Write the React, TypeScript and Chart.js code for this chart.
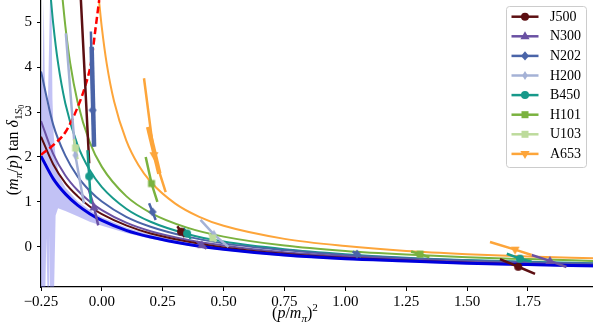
import React, { useEffect, useRef } from 'react';
import { Chart, registerables, LineController, ScatterController } from 'chart.js';

Chart.register(...registerables);
// keep the plot area flush with the canvas edges (no automatic overflow padding)
(LineController.prototype as any).getMaxOverflow = function () { return 0; };
(ScatterController.prototype as any).getMaxOverflow = function () { return 0; };

// ---------- axes ----------
const X_MIN = -0.25;
const X_MAX = 2.017;
const Y_MIN = -0.89;
const Y_MAX = 5.49;
const xTickValues = [-0.25, 0, 0.25, 0.5, 0.75, 1.0, 1.25, 1.5, 1.75];
const xTickLabels = ['−0.25', '0.00', '0.25', '0.50', '0.75', '1.00', '1.25', '1.50', '1.75'];
const yTickValues = [0, 1, 2, 3, 4, 5];
const yTickLabels = ['0', '1', '2', '3', '4', '5'];

// ---------- legend / ensembles ----------
const ensembles = ['J500', 'N300', 'N202', 'H200', 'B450', 'H101', 'U103', 'A653'];

// ---------- full curves ----------
const curveX = [-0.25, -0.2, -0.15, -0.1, -0.05, 0, 0.1, 0.2, 0.35, 0.5, 0.75, 1.0, 1.25, 1.5, 1.75, 2.02];
const fitBlue = [2.02, 1.52, 1.18, 0.93, 0.74, 0.59, 0.37, 0.22, 0.06, -0.05, -0.18, -0.26, -0.31, -0.36, -0.39, -0.42];
const curveJ500 = [2.45, 1.84, 1.42, 1.13, 0.9, 0.73, 0.48, 0.3, 0.12, -0.01, -0.15, -0.24, -0.3, -0.35, -0.39, -0.42];
const curveN300 = [2.8, 2.07, 1.59, 1.26, 1.01, 0.82, 0.54, 0.35, 0.16, 0.03, -0.12, -0.21, -0.28, -0.33, -0.37, -0.4];
const curveN202 = [3.9, 2.72, 2.03, 1.57, 1.25, 1.01, 0.67, 0.45, 0.23, 0.08, -0.07, -0.18, -0.25, -0.3, -0.34, -0.37];
const tealX = [-0.209, -0.2, -0.18, -0.15, -0.1, -0.05, 0, 0.1, 0.2, 0.35, 0.5, 0.75, 1.0, 1.25, 1.5, 1.75, 2.02];
const curveB450 = [5.49, 4.97, 4.09, 3.19, 2.27, 1.71, 1.33, 0.85, 0.56, 0.29, 0.12, -0.05, -0.16, -0.24, -0.29, -0.33, -0.36];
const greenX = [-0.161, -0.15, -0.13, -0.1, -0.05, 0, 0.1, 0.2, 0.35, 0.5, 0.75, 1.0, 1.25, 1.5, 1.75, 2.02];
const curveH101 = [5.49, 4.91, 4.08, 3.23, 2.33, 1.78, 1.13, 0.76, 0.43, 0.23, 0.03, -0.09, -0.17, -0.23, -0.27, -0.31];
const orangeX = [-0.012, 0, 0.02, 0.05, 0.1, 0.15, 0.2, 0.3, 0.4, 0.5, 0.75, 1.0, 1.25, 1.5, 1.75, 2.02];
const curveA653 = [5.49, 4.87, 4.07, 3.24, 2.37, 1.82, 1.45, 0.97, 0.67, 0.47, 0.18, 0.02, -0.09, -0.16, -0.21, -0.25];

// red dashed bound-state line
const redX = [-0.25, -0.19, -0.15, -0.1, -0.07, -0.045, -0.025, -0.011];
const redY = [2.05, 2.31, 2.55, 3.1, 3.55, 4.08, 4.9, 5.49];

// error band of the fit
const bandUpperX = [-0.25, -0.243, -0.239, -0.235, -0.23, -0.222, -0.213, -0.207, -0.203, -0.198, -0.19, -0.18, -0.17, -0.15, -0.1, -0.05, 0, 0.1, 0.2, 0.35, 0.5, 0.75, 1.0, 1.5, 2.02];
const bandUpper = [3.6, 3.9, 5.49, 3.9, 3.3, 3.1, 5.49, 5.49, 3.3, 2.5, 2.0, 1.72, 1.52, 1.32, 1.02, 0.82, 0.66, 0.43, 0.27, 0.1, -0.02, -0.15, -0.23, -0.33, -0.39];
const bandLowerX = [-0.25, -0.232, -0.228, -0.224, -0.216, -0.213, -0.21, -0.196, -0.19, -0.18, -0.15, -0.1, -0.05, 0, 0.1, 0.2, 0.35, 0.5, 0.75, 1.0, 1.5, 2.02];
const bandLower = [-0.89, -0.89, 0.2, -0.89, -0.89, 0.3, -0.89, -0.89, 0.7, 0.86, 0.8, 0.68, 0.56, 0.47, 0.31, 0.18, 0.03, -0.08, -0.21, -0.29, -0.39, -0.46];

// ---------- lattice points: centre, lower end, upper end ----------
const J500_mark = [[-0.091, 6.0], [0.325, 0.34], [1.71, -0.44]];
const J500_lo = [[-0.052, 1.86], [0.34, 0.22], [1.779, -0.6]];
const J500_hi = [[-0.095, 6.5], [0.31, 0.46], [1.635, -0.27]];

const N300_mark = [[-0.032, 0.88], [0.41, 0.04], [1.84, -0.31]];
const N300_lo = [[-0.015, 0.48], [0.43, -0.04], [1.908, -0.445]];
const N300_hi = [[-0.055, 1.3], [0.39, 0.12], [1.765, -0.18]];

const N202_mark = [[-0.038, 3.04], [0.208, 0.78], [1.048, -0.16]];
const N202_lo = [[-0.032, 2.23], [0.221, 0.6], [1.065, -0.22]];
const N202_hi = [[-0.045, 4.79], [0.194, 0.97], [1.03, -0.1]];
const N202_inner = [[-0.042, 4.45], [-0.032, 2.23]];

const H200_mark = [[-0.109, 2.04], [0.46, 0.28]];
const H200_lo = [[-0.074, 0.97], [0.52, 0.0]];
const H200_hi = [[-0.148, 4.75], [0.405, 0.6]];

const B450_mark = [[-0.052, 1.57], [0.35, 0.3], [1.717, -0.26]];
const B450_lo = [[-0.045, 0.97], [0.365, 0.18], [1.765, -0.33]];
const B450_hi = [[-0.059, 2.15], [0.335, 0.42], [1.663, -0.15]];

const H101_mark = [[0.204, 1.41], [1.307, -0.16]];
const H101_lo = [[0.228, 1.0], [1.345, -0.23]];
const H101_hi = [[0.18, 2.0], [1.27, -0.1]];

const U103_mark = [[-0.108, 2.2], [0.455, 0.2]];
const U103_lo = [[-0.1, 1.95], [0.47, 0.12]];
const U103_hi = [[-0.115, 2.4], [0.44, 0.3]];

const A653_mark = [[0.214, 2.04], [1.697, -0.06]];
const A653_lo = [[0.262, 1.22], [1.765, -0.18]];
const A653_hi = [[0.173, 3.75], [1.594, 0.11]];
const A653_inner = [[0.19, 2.67], [0.236, 1.63]];

// ---------- styles ----------
const STYLE: Record<string, { color: string; marker: string }> = {
  J500: { color: '#5c0f12', marker: 'circle' },
  N300: { color: '#6a51a3', marker: 'triangle' },
  N202: { color: '#4a64a8', marker: 'diamond' },
  H200: { color: '#a5b2d6', marker: 'thinDiamond' },
  B450: { color: '#17998a', marker: 'circle' },
  H101: { color: '#7ab23f', marker: 'square' },
  U103: { color: '#bddb9c', marker: 'square' },
  A653: { color: '#fda53a', marker: 'triangleDown' },
};
const FIT_BLUE = '#0000dd';
const BAND = 'rgba(110,110,230,0.42)';
const SERIF = '"Liberation Serif", "DejaVu Serif", serif';

const POINTS: Record<string, { mark: number[][]; lo: number[][]; hi: number[][]; inner?: number[][] }> = {
  J500: { mark: J500_mark, lo: J500_lo, hi: J500_hi },
  N300: { mark: N300_mark, lo: N300_lo, hi: N300_hi },
  N202: { mark: N202_mark, lo: N202_lo, hi: N202_hi, inner: N202_inner },
  H200: { mark: H200_mark, lo: H200_lo, hi: H200_hi },
  B450: { mark: B450_mark, lo: B450_lo, hi: B450_hi },
  H101: { mark: H101_mark, lo: H101_lo, hi: H101_hi },
  U103: { mark: U103_mark, lo: U103_lo, hi: U103_hi },
  A653: { mark: A653_mark, lo: A653_lo, hi: A653_hi, inner: A653_inner },
};

const xy = (xs: number[], ys: number[]) => xs.map((x, i) => ({ x, y: ys[i] }));
const pr = (p: number[]) => ({ x: p[0], y: p[1] });

function markerPath(ctx: CanvasRenderingContext2D, kind: string, x: number, y: number) {
  ctx.beginPath();
  switch (kind) {
    case 'circle':
      ctx.arc(x, y, 4, 0, Math.PI * 2);
      break;
    case 'triangle':
      ctx.moveTo(x, y - 5); ctx.lineTo(x + 4.6, y + 3); ctx.lineTo(x - 4.6, y + 3); ctx.closePath();
      break;
    case 'triangleDown':
      ctx.moveTo(x, y + 5); ctx.lineTo(x + 4.6, y - 3); ctx.lineTo(x - 4.6, y - 3); ctx.closePath();
      break;
    case 'diamond':
      ctx.moveTo(x, y - 4.6); ctx.lineTo(x + 4, y); ctx.lineTo(x, y + 4.6); ctx.lineTo(x - 4, y); ctx.closePath();
      break;
    case 'thinDiamond':
      ctx.moveTo(x, y - 4.6); ctx.lineTo(x + 2.8, y); ctx.lineTo(x, y + 4.6); ctx.lineTo(x - 2.8, y); ctx.closePath();
      break;
    default:
      ctx.rect(x - 3.5, y - 3.5, 7, 7);
  }
}

function markerCanvas(kind: string, color: string) {
  const c = document.createElement('canvas');
  c.width = 12; c.height = 12;
  const g = c.getContext('2d')!;
  g.fillStyle = color;
  markerPath(g, kind, 6, 6);
  g.fill();
  return c;
}

type Run = { t: string; it?: boolean; lvl?: number };
function drawRuns(ctx: CanvasRenderingContext2D, runs: Run[], cx: number, baseline: number, base: number) {
  const size = (r: Run) => (r.lvl === 1 || r.lvl === -1 ? base * 0.7 : r.lvl === 2 ? base * 0.5 : base);
  const dy = (r: Run) => (r.lvl === 1 ? base * 0.22 : r.lvl === 2 ? base * 0.4 : r.lvl === -1 ? -base * 0.42 : 0);
  const font = (r: Run) => `${r.it ? 'italic ' : ''}${size(r)}px ${SERIF}`;
  let total = 0;
  const widths = runs.map((r) => {
    ctx.font = font(r);
    const w = ctx.measureText(r.t).width;
    total += w;
    return w;
  });
  let x = cx - total / 2;
  ctx.textAlign = 'left';
  ctx.textBaseline = 'alphabetic';
  runs.forEach((r, i) => {
    ctx.font = font(r);
    ctx.fillText(r.t, x, baseline + dy(r));
    x += widths[i];
  });
}

const xTitle: Run[] = [
  { t: '(' }, { t: 'p', it: true }, { t: '/' }, { t: 'm', it: true }, { t: 'π', it: true, lvl: 1 }, { t: ')' }, { t: '2', lvl: -1 },
];
const yTitle: Run[] = [
  { t: '(' }, { t: 'm', it: true }, { t: 'π', it: true, lvl: 1 }, { t: '/' }, { t: 'p', it: true }, { t: ')' },
  { t: ' tan ' }, { t: 'δ', it: true }, { t: '1', lvl: 1 }, { t: 'S', it: true, lvl: 1 }, { t: '0', lvl: 2 },
];

const decorPlugin = {
  id: 'decor',
  afterDraw(chart: any) {
    const ctx: CanvasRenderingContext2D = chart.ctx;
    ctx.save();
    ctx.fillStyle = '#000';
    drawRuns(ctx, xTitle, 295, 318, 16);
    ctx.save();
    ctx.translate(18, 150);
    ctx.rotate(-Math.PI / 2);
    drawRuns(ctx, yTitle, 0, 0, 16);
    ctx.restore();

    const bx = 506.5, by = 6.5, bw = 80, bh = 161, r = 3;
    ctx.beginPath();
    ctx.moveTo(bx + r, by);
    ctx.lineTo(bx + bw - r, by);
    ctx.quadraticCurveTo(bx + bw, by, bx + bw, by + r);
    ctx.lineTo(bx + bw, by + bh - r);
    ctx.quadraticCurveTo(bx + bw, by + bh, bx + bw - r, by + bh);
    ctx.lineTo(bx + r, by + bh);
    ctx.quadraticCurveTo(bx, by + bh, bx, by + bh - r);
    ctx.lineTo(bx, by + r);
    ctx.quadraticCurveTo(bx, by, bx + r, by);
    ctx.closePath();
    ctx.fillStyle = 'rgba(255,255,255,0.8)';
    ctx.fill();
    ctx.strokeStyle = '#cccccc';
    ctx.lineWidth = 1;
    ctx.stroke();
    ensembles.forEach((name, i) => {
      const y = 16.7 + i * 19.6;
      const st = STYLE[name];
      ctx.strokeStyle = st.color;
      ctx.lineWidth = 2.5;
      ctx.beginPath();
      ctx.moveTo(511.5, y);
      ctx.lineTo(538.5, y);
      ctx.stroke();
      ctx.fillStyle = st.color;
      markerPath(ctx, st.marker, 525, y);
      ctx.fill();
      ctx.fillStyle = '#000';
      ctx.font = `14px ${SERIF}`;
      ctx.textAlign = 'left';
      ctx.textBaseline = 'middle';
      ctx.fillText(name, 550, y + 0.5);
    });
    ctx.restore();
  },
};

export default function App() {
  const ref = useRef<HTMLCanvasElement>(null);
  useEffect(() => {
    document.body.style.margin = '0';
    const noPts = { pointRadius: 0, pointHoverRadius: 0, pointBorderWidth: 0 };
    const datasets: any[] = [];
    datasets.push({
      type: 'line', data: xy(bandUpperX, bandUpper), borderWidth: 0, tension: 0, ...noPts,
      fill: '+1', backgroundColor: BAND, borderColor: BAND, order: 100,
    });
    datasets.push({
      type: 'line', data: xy(bandLowerX, bandLower), borderWidth: 0, tension: 0, ...noPts,
      fill: false, borderColor: BAND, order: 99,
    });
    const curves: [string, number[], number[], number][] = [
      ['A653', orangeX, curveA653, 80],
      ['H101', greenX, curveH101, 79],
      ['B450', tealX, curveB450, 78],
      ['N202', curveX, curveN202, 77],
      ['N300', curveX, curveN300, 76],
      ['J500', curveX, curveJ500, 75],
    ];
    curves.forEach(([name, xs, ys, order]) => {
      datasets.push({
        type: 'line', data: xy(xs, ys), borderColor: STYLE[name].color, borderWidth: 2, ...noPts,
        cubicInterpolationMode: 'monotone', fill: false, order,
      });
    });
    datasets.push({
      type: 'line', data: xy(curveX, fitBlue), borderColor: FIT_BLUE, borderWidth: 3, ...noPts,
      cubicInterpolationMode: 'monotone', fill: false, order: 50,
    });
    datasets.push({
      type: 'line', data: xy(redX, redY), borderColor: '#ff0000', borderWidth: 2.5, borderDash: [7, 3.5],
      ...noPts, cubicInterpolationMode: 'monotone', fill: false, order: 45,
    });
    ensembles.forEach((name, k) => {
      const p = POINTS[name];
      const st = STYLE[name];
      p.mark.forEach((m, i) => {
        datasets.push({
          type: 'line', data: [pr(p.hi[i]), pr(m), pr(p.lo[i])], borderColor: st.color, borderWidth: 2.5,
          ...noPts, tension: 0, fill: false, order: 30 - k * 0.1,
        });
      });
      if (p.inner) {
        datasets.push({
          type: 'line', data: p.inner.map(pr), borderColor: st.color, borderWidth: 4.5,
          ...noPts, tension: 0, fill: false, order: 29 - k * 0.1,
        });
      }
      datasets.push({
        type: 'scatter', data: p.mark.map(pr), pointStyle: markerCanvas(st.marker, st.color),
        pointRadius: 5, pointHoverRadius: 5, pointBorderWidth: 0, backgroundColor: st.color, borderColor: st.color,
        showLine: false, order: 20 - k * 0.1,
      });
    });

    const tickFont = { family: SERIF, size: 15 };
    const chart = new Chart(ref.current!, {
      type: 'scatter',
      data: { datasets },
      options: {
        animation: false,
        responsive: false,
        devicePixelRatio: 1,
        layout: { padding: 0 },
        events: [],
        plugins: { legend: { display: false }, tooltip: { enabled: false } },
        scales: {
          x: {
            type: 'linear', min: X_MIN, max: X_MAX,
            afterBuildTicks: (s: any) => { s.ticks = xTickValues.map((v) => ({ value: v })); },
            afterFit: (s: any) => { s.height = 47; s.paddingLeft = 0; s.paddingRight = 0; },
            ticks: {
              callback: (_v: any, i: number) => xTickLabels[i], font: tickFont, color: '#000',
              padding: 2, maxRotation: 0, autoSkip: false,
            },
            grid: { display: true, drawOnChartArea: false, drawTicks: true, tickLength: 4, color: '#000', tickWidth: 1 },
            border: { display: true, color: '#000', width: 1.2 },
          },
          y: {
            type: 'linear', min: Y_MIN, max: Y_MAX,
            afterBuildTicks: (s: any) => { s.ticks = yTickValues.map((v) => ({ value: v })); },
            afterFit: (s: any) => { s.width = 41; s.paddingTop = 0; s.paddingBottom = 0; },
            ticks: {
              callback: (_v: any, i: number) => yTickLabels[i], font: tickFont, color: '#000',
              padding: 5, autoSkip: false,
            },
            grid: { display: true, drawOnChartArea: false, drawTicks: true, tickLength: 4, color: '#000', tickWidth: 1 },
            border: { display: true, color: '#000', width: 1.2 },
          },
        },
      } as any,
      plugins: [decorPlugin as any],
    });
    return () => chart.destroy();
  }, []);
  return (
    <div style={{ width: 593, height: 334 }}>
      <canvas ref={ref} width={593} height={334} style={{ display: 'block' }} />
    </div>
  );
}
